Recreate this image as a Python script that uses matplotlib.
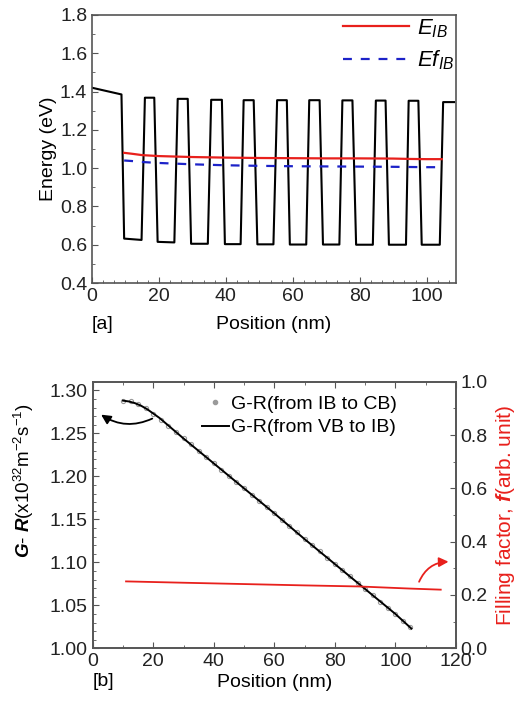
#!/usr/bin/env python3
import matplotlib

matplotlib.use("Agg")
import matplotlib.pyplot as plt
from matplotlib.lines import Line2D
from matplotlib.ticker import FormatStrFormatter, MultipleLocator

# panel [a]: band edge profile, E_IB, Ef_IB
pos_band = [0, 8.8, 9.6, 14.8, 15.8, 18.6, 19.6, 24.6, 25.6, 28.6, 29.6, 34.6, 35.6, 38.8,
            39.7, 44.4, 45.3, 48.3, 49.4, 54.2, 55.3, 58.2, 59.1, 64.0, 64.9, 68.0, 69.0,
            73.9, 74.8, 77.8, 78.9, 83.9, 84.8, 87.7, 88.7, 93.8, 94.6, 97.5, 98.5, 103.9,
            104.9, 108.2]
e_band = [1.42, 1.385, 0.632, 0.625, 1.368, 1.368, 0.615, 0.612, 1.362, 1.362, 0.605, 0.605,
          1.357, 1.357, 0.603, 0.603, 1.355, 1.355, 0.602, 0.602, 1.355, 1.355, 0.601, 0.601,
          1.355, 1.355, 0.601, 0.601, 1.354, 1.354, 0.600, 0.600, 1.353, 1.353, 0.600, 0.600,
          1.352, 1.352, 0.600, 0.600, 1.345, 1.345]

pos_ib = [9.6, 12, 15, 20, 30, 40, 50, 60, 70, 80, 90, 95, 100, 104.5]
e_ib = [1.08, 1.075, 1.068, 1.063, 1.058, 1.055, 1.053, 1.052, 1.051, 1.051, 1.050, 1.048,
        1.047, 1.047]
ef_ib = [1.04, 1.037, 1.032, 1.027, 1.020, 1.015, 1.012, 1.010, 1.009, 1.008, 1.007, 1.006,
         1.005, 1.005]

# panel [b]: G-R and filling factor
pos_vbib = [10, 12, 14, 16, 18, 20, 22, 25, 30, 40, 50, 60, 70, 80, 90, 100, 105.3]
gr_vbib = [1.288, 1.287, 1.285, 1.282, 1.278, 1.273, 1.268, 1.259, 1.244, 1.215, 1.186,
           1.157, 1.127, 1.098, 1.069, 1.040, 1.023]

pos_ibcb = [10, 12.5, 15, 17.5, 20, 22.5, 25, 27.5, 30, 32.5, 35, 37.5, 40, 42.5, 45, 47.5,
            50, 52.5, 55, 57.5, 60, 62.5, 65, 67.5, 70, 72.5, 75, 77.5, 80, 82.5, 85, 87.5,
            90, 92.5, 95, 97.5, 100, 102.5, 105]
gr_ibcb = [1.288, 1.287, 1.284, 1.279, 1.273, 1.266, 1.259, 1.252, 1.244, 1.237, 1.229,
           1.222, 1.215, 1.207, 1.200, 1.193, 1.186, 1.178, 1.171, 1.164, 1.157, 1.149,
           1.142, 1.135, 1.127, 1.120, 1.113, 1.105, 1.098, 1.091, 1.084, 1.076, 1.069,
           1.062, 1.054, 1.047, 1.040, 1.032, 1.025]

pos_fill = [11, 30, 50, 70, 88, 105, 115]
fill = [0.251, 0.246, 0.241, 0.236, 0.232, 0.224, 0.220]

RED = "#e8201c"
BLUE = "#1c22c8"

plt.rcParams.update(
    {
        "font.family": ["Liberation Sans", "DejaVu Sans"],
        "font.size": 14,
        "mathtext.fontset": "custom",
        "mathtext.rm": "Liberation Sans",
        "mathtext.it": "Liberation Sans:italic",
        "mathtext.bf": "Liberation Sans:bold:italic",
        "axes.edgecolor": "#555555",
        "axes.linewidth": 1.2,
        "xtick.direction": "in",
        "ytick.direction": "in",
        "xtick.color": "#555555",
        "ytick.color": "#555555",
        "xtick.labelcolor": "#222222",
        "ytick.labelcolor": "#222222",
        "xtick.major.size": 4,
        "ytick.major.size": 4,
        "xtick.minor.size": 2.5,
        "ytick.minor.size": 2.5,
    }
)

fig = plt.figure(figsize=(5.27, 7.04), dpi=100)

# ---- panel a
ax1 = fig.add_axes([0.1746, 0.598, 0.6904, 0.3807])
ax1.plot(pos_band, e_band, color="black", lw=1.5)
ax1.plot(pos_ib, e_ib, color=RED, lw=1.6, label="$E_{IB}$")
ax1.plot(pos_ib, ef_ib, color=BLUE, lw=1.6, dashes=(4, 4), label="$Ef_{IB}$")
ax1.set_xlim(0, 108.7)
ax1.set_ylim(0.4, 1.8)
ax1.xaxis.set_major_locator(MultipleLocator(20))
ax1.xaxis.set_minor_locator(MultipleLocator(20 / 6))
ax1.yaxis.set_major_locator(MultipleLocator(0.2))
ax1.yaxis.set_minor_locator(MultipleLocator(0.1))
ax1.set_xlabel("Position (nm)", labelpad=8)
ax1.set_ylabel("Energy (eV)", labelpad=2)
ax1.text(0.0, -0.153, "[a]", transform=ax1.transAxes, fontsize=14, va="center")
ax1.legend(loc="upper right", bbox_to_anchor=(1.02, 1.025), frameon=False,
           handlelength=3.0, handletextpad=0.35, borderaxespad=0.0, labelspacing=0.4,
           fontsize=16)

# ---- panel b
ax2 = fig.add_axes([0.176, 0.0791, 0.689, 0.3787])
ax2.plot(pos_ibcb, gr_ibcb, ls="none", marker="o", ms=3, mfc="none", mec="#9a9a9a",
         mew=0.8)
ax2.plot(pos_vbib, gr_vbib, color="black", lw=1.4)
ax2.set_xlim(0, 120)
ax2.set_ylim(1.0, 1.31)
ax2.xaxis.set_major_locator(MultipleLocator(20))
ax2.xaxis.set_minor_locator(MultipleLocator(10))
ax2.yaxis.set_major_locator(MultipleLocator(0.05))
ax2.yaxis.set_minor_locator(MultipleLocator(0.01))
ax2.yaxis.set_major_formatter(FormatStrFormatter("%.2f"))
ax2.tick_params(axis="x", which="both", top=True)
ax2.set_xlabel("Position (nm)", labelpad=3)
ax2.set_ylabel(r"$\mathbf{G}$- $\mathbf{R}$(x10$^{32}$m$^{-2}$s$^{-1}$)", fontsize=13.5)
ax2.yaxis.set_label_coords(-0.155, 0.63)
ax2.text(0.0, -0.124, "[b]", transform=ax2.transAxes, fontsize=14, va="center")

h_pts = Line2D([], [], ls="none", marker="o", ms=3, mfc="#9a9a9a", mec="#9a9a9a")
h_line = Line2D([], [], color="black", lw=1.4)
ax2.legend([h_pts, h_line], ["G-R(from IB to CB)", "G-R(from VB to IB)"],
           loc="upper right", bbox_to_anchor=(0.875, 1.0), frameon=False,
           handlelength=1.4, handletextpad=0.1, borderaxespad=0.3, labelspacing=0.3,
           fontsize=14)

ax2.annotate("", xy=(2, 1.2735), xytext=(20.5, 1.2685),
             arrowprops=dict(arrowstyle="-|>", color="black", lw=1.3,
                             connectionstyle="arc3,rad=-0.3", mutation_scale=14))

ax3 = ax2.twinx()
ax3.plot(pos_fill, fill, color=RED, lw=1.3)
ax3.set_ylim(0, 1.0)
ax3.yaxis.set_major_locator(MultipleLocator(0.2))
ax3.yaxis.set_minor_locator(MultipleLocator(0.1))
ax3.set_ylabel(r"Filling factor, $\mathbf{f}$(arb. unit)", color=RED, fontsize=15,
               labelpad=4)
ax3.annotate("", xy=(118.5, 0.325), xytext=(107.5, 0.24),
             arrowprops=dict(arrowstyle="-|>", color=RED, lw=1.3,
                             connectionstyle="arc3,rad=-0.35", mutation_scale=14))

fig.savefig("out.png", dpi=100)
